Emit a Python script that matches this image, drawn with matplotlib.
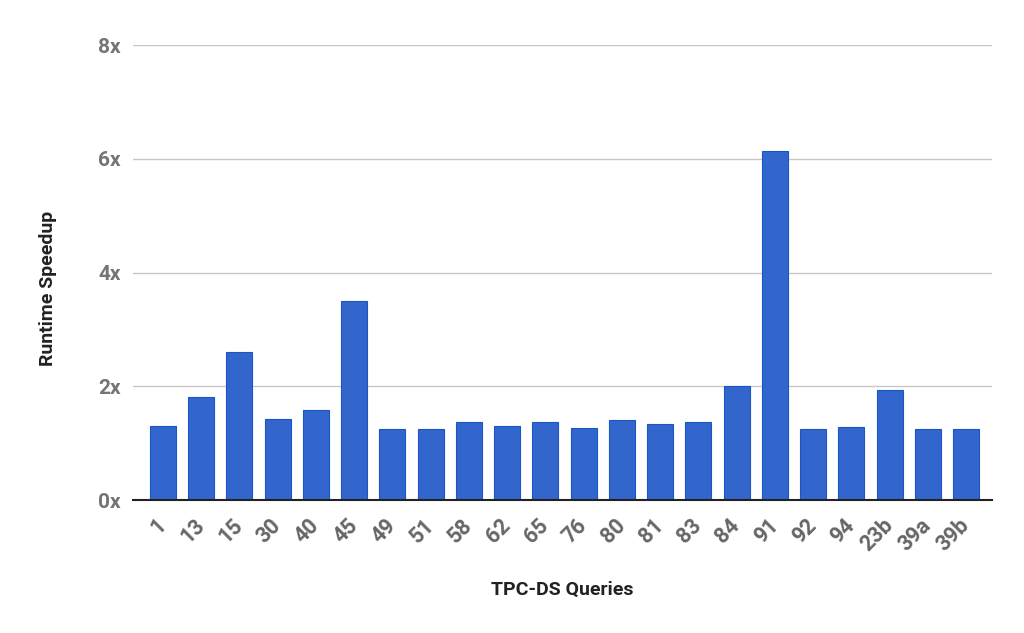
import matplotlib.pyplot as plt
import numpy as np

# queries TPC-DS e speedup de runtime
queries = ['1', '13', '15', '30', '40', '45', '49', '51', '58', '62', '65',
           '76', '80', '81', '83', '84', '91', '92', '94', '23b', '39a', '39b']
speedup = [1.30, 1.81, 2.60, 1.43, 1.58, 3.50, 1.25, 1.25, 1.37, 1.30, 1.37,
           1.27, 1.40, 1.34, 1.37, 2.00, 6.13, 1.25, 1.28, 1.94, 1.25, 1.25]
yticks = [0, 2, 4, 6, 8]
ytick_labels = ['0x', '2x', '4x', '6x', '8x']

plt.rcParams['font.family'] = ['Roboto', 'DejaVu Sans']

fig = plt.figure(figsize=(10.24, 6.33), dpi=100)
ax = fig.add_axes([0.1299, 0.2101, 0.9688 - 0.1299, 0.9289 - 0.2101])

x = np.arange(len(queries))
ax.bar(x, speedup, width=0.68, color='#3366cc', edgecolor='#1a55c8',
       linewidth=0.8, zorder=3)

ax.set_xlim(-0.68 - 0.1, len(queries) - 1 + 0.68)
ax.set_ylim(0, 8)
ax.set_yticks(yticks)
ax.set_yticklabels(ytick_labels, fontsize=15, fontweight='bold', color='#757575')
ax.set_xticks(x)
ax.set_xticklabels(queries, fontsize=15.5, fontweight='bold', color='#666666',
                   rotation=45, ha='right', va='center', rotation_mode='anchor')
ax.tick_params(axis='x', length=0, pad=16)
ax.tick_params(axis='y', length=0, pad=9)

ax.grid(axis='y', color='#c8c8c8', linewidth=1, zorder=0)
for s in ['top', 'right', 'left']:
    ax.spines[s].set_visible(False)
ax.spines['bottom'].set_color('#222222')
ax.spines['bottom'].set_linewidth(1.5)
ax.spines['bottom'].set_zorder(4)

ax.set_xlabel('TPC-DS Queries', fontsize=14, fontweight='bold', color='#222222',
              labelpad=18)
ax.set_ylabel('Runtime Speedup', fontsize=14, fontweight='bold', color='#222222')
ax.yaxis.set_label_coords(-0.088, 0.466)

fig.savefig('out.png', dpi=100)
